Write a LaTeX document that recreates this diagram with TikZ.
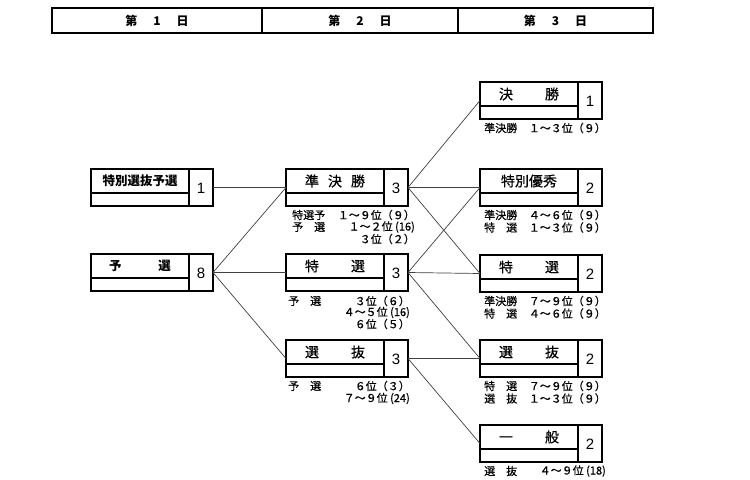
\documentclass[tikz,border=0pt]{standalone}
\usepackage{fontspec}
\setmainfont{Noto Sans CJK JP}
\newfontfamily\numfont{Liberation Sans}
\newfontfamily\lblfont[FakeBold=0.6]{Noto Sans CJK JP}
\usetikzlibrary{calc}
\tikzset{
  tbox/.style={draw, line width=2.2bp, minimum width=122bp, minimum height=37bp, inner sep=0pt, outer sep=0pt, anchor=north west},
  tdiv/.style={line width=2.2bp},
  ttitle/.style={inner sep=0pt, font=\lblfont\fontsize{14bp}{16bp}\selectfont},
  ttitleb/.style={inner sep=0pt, font=\bfseries\fontsize{12.5bp}{14bp}\selectfont},
  tnum/.style={inner sep=0pt, font=\numfont\fontsize{15bp}{17bp}\selectfont},
  lbl/.style={inner sep=0pt, font=\lblfont\fontsize{11bp}{13bp}\selectfont},
  lblw/.style={lbl, anchor=west},
  lble/.style={lbl, anchor=east},
  conn/.style={line width=0.7bp, draw=black!75},
  hdrbox/.style={draw, line width=2.4bp, minimum width=601bp, minimum height=25bp, inner sep=0pt, outer sep=0pt, anchor=north west},
  hdrtxt/.style={inner sep=0pt, font=\bfseries\fontsize{12bp}{14bp}\selectfont}
}
\newcommand\mkbox[6]{%
  \node[tbox] (#1) at (#2,#3) {};
  \draw[tdiv] ($(#1.north east)+(-24,0)$) -- ($(#1.south east)+(-24,0)$);
  \draw[tdiv] ($(#1.north west)+(0,24)$) -- ($(#1.north east)+(-24,24)$);
  \node[#6] (#1-t) at ($(#1.north west)+(49,12)$) {#4};
  \node[tnum] (#1-n) at ($(#1.north east)+(-12,19)$) {#5};
}
\begin{document}
\begin{tikzpicture}[x=1bp, y=-1bp]
\useasboundingbox (0,0) rectangle (750,480);
% header
\node[hdrbox] (hdr) at (52,8) {};
\draw[line width=2.4bp] ($(hdr.north west)+(210,0)$) -- ($(hdr.south west)+(210,0)$);
\draw[line width=2.4bp] ($(hdr.north west)+(406,0)$) -- ($(hdr.south west)+(406,0)$);
\node[hdrtxt] (h1) at (157,20.5) {第\hspace{16bp}1\hspace{16bp}日};
\node[hdrtxt] (h2) at (360,20.5) {第\hspace{16bp}2\hspace{16bp}日};
\node[hdrtxt] (h3) at (555.5,20.5) {第\hspace{16bp}3\hspace{16bp}日};
% column 1
\mkbox{tsy}{91}{169}{特別選抜予選}{1}{ttitleb}
\mkbox{yosen}{91}{254}{予\hspace{37bp}選}{8}{ttitleb}
% column 2
\mkbox{jks}{286}{169}{準\hspace{9bp}決\hspace{9bp}勝}{3}{ttitle}
\mkbox{tks}{286}{254}{特\hspace{32bp}選}{3}{ttitle}
\mkbox{snb}{286}{340}{選\hspace{32bp}抜}{3}{ttitle}
% column 3
\mkbox{ks}{480}{82}{決\hspace{32bp}勝}{1}{ttitle}
\mkbox{tby}{480}{169}{特別優秀}{2}{ttitle}
\mkbox{tks3}{480}{255}{特\hspace{32bp}選}{2}{ttitle}
\mkbox{snb3}{480}{340}{選\hspace{32bp}抜}{2}{ttitle}
\mkbox{ipn}{480}{425}{一\hspace{32bp}般}{2}{ttitle}
% labels column 2
\node[lblw] (jks-a1) at ($(jks.south west)+(6,9)$) {特選予};
\node[lble] (jks-b1) at ($(jks.south west)+(129,9)$) {１～９位（９）};
\node[lblw] (jks-a2) at ($(jks.south west)+(6,21)$) {予　選};
\node[lble] (jks-b2) at ($(jks.south west)+(129,21)$) {１～２位 (16)};
\node[lble] (jks-b3) at ($(jks.south west)+(129,33)$) {３位（２）};
\node[lblw] (tks-a1) at ($(tks.south west)+(2,10)$) {予　選};
\node[lble] (tks-b1) at ($(tks.south west)+(124,10)$) {３位（６）};
\node[lble] (tks-b2) at ($(tks.south west)+(124,21.5)$) {４～５位 (16)};
\node[lble] (tks-b3) at ($(tks.south west)+(124,33)$) {６位（５）};
\node[lblw] (snb-a1) at ($(snb.south west)+(2,9)$) {予　選};
\node[lble] (snb-b1) at ($(snb.south west)+(124,9)$) {６位（３）};
\node[lble] (snb-b2) at ($(snb.south west)+(124,21.5)$) {７～９位 (24)};
% labels column 3
\node[lblw] (ks-a1) at ($(ks.south west)+(4,9)$) {準決勝};
\node[lble] (ks-b1) at ($(ks.south west)+(126,9)$) {１～３位（９）};
\node[lblw] (tby-a1) at ($(tby.south west)+(4,9)$) {準決勝};
\node[lble] (tby-b1) at ($(tby.south west)+(126,9)$) {４～６位（９）};
\node[lblw] (tby-a2) at ($(tby.south west)+(4,21.5)$) {特　選};
\node[lble] (tby-b2) at ($(tby.south west)+(126,21.5)$) {１～３位（９）};
\node[lblw] (tks3-a1) at ($(tks3.south west)+(4,9)$) {準決勝};
\node[lble] (tks3-b1) at ($(tks3.south west)+(126,9)$) {７～９位（９）};
\node[lblw] (tks3-a2) at ($(tks3.south west)+(4,21.5)$) {特　選};
\node[lble] (tks3-b2) at ($(tks3.south west)+(126,21.5)$) {４～６位（９）};
\node[lblw] (snb3-a1) at ($(snb3.south west)+(4,9)$) {特　選};
\node[lble] (snb3-b1) at ($(snb3.south west)+(126,9)$) {７～９位（９）};
\node[lblw] (snb3-a2) at ($(snb3.south west)+(4,21.5)$) {選　抜};
\node[lble] (snb3-b2) at ($(snb3.south west)+(126,21.5)$) {１～３位（９）};
\node[lblw] (ipn-a1) at ($(ipn.south west)+(4,9)$) {選　抜};
\node[lble] (ipn-b1) at ($(ipn.south west)+(126,9)$) {４～９位 (18)};
% connectors
\draw[conn] (tsy.east) -- (jks.west);
\draw[conn] (yosen.east) -- (jks.west);
\draw[conn] (yosen.east) -- (tks.west);
\draw[conn] (yosen.east) -- (snb.west);
\draw[conn] (jks.east) -- (ks.west);
\draw[conn] (jks.east) -- (tby.west);
\draw[conn] (jks.east) -- (tks3.west);
\draw[conn] (tks.east) -- (tby.west);
\draw[conn] (tks.east) -- (tks3.west);
\draw[conn] (tks.east) -- (snb3.west);
\draw[conn] (snb.east) -- (snb3.west);
\draw[conn] (snb.east) -- (ipn.west);
\end{tikzpicture}
\end{document}
